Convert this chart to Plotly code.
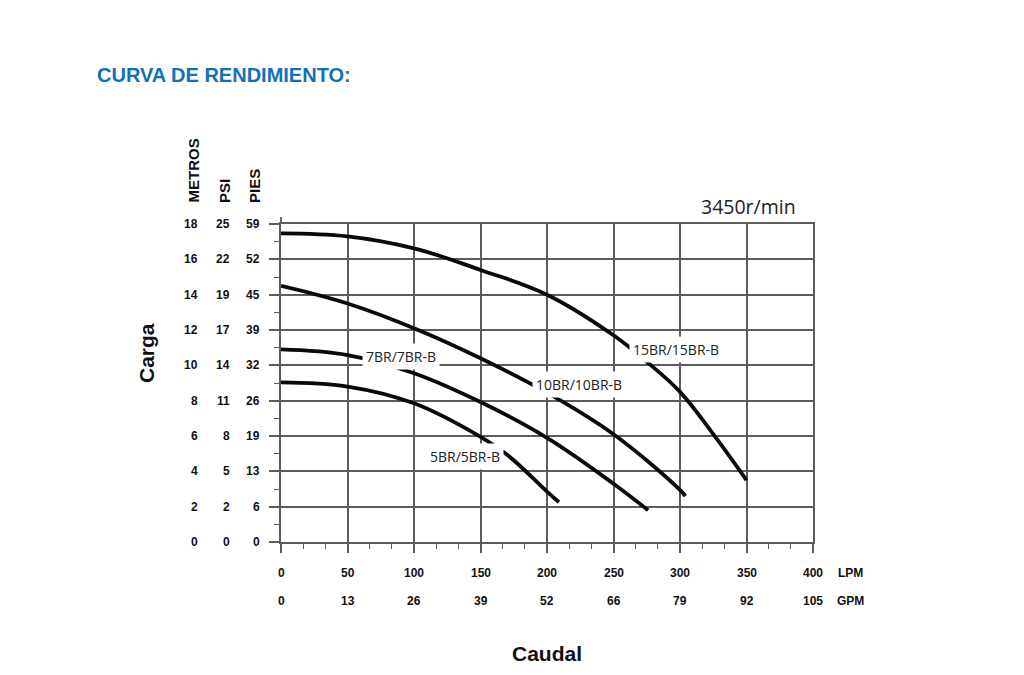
import plotly.graph_objects as go

# ---------------- data ----------------
lpm_ticks = [0, 50, 100, 150, 200, 250, 300, 350, 400]
lpm_labels = ["0", "50", "100", "150", "200", "250", "300", "350", "400"]
gpm_labels = ["0", "13", "26", "39", "52", "66", "79", "92", "105"]

metros_ticks = [0, 2, 4, 6, 8, 10, 12, 14, 16, 18]
metros_labels = ["0", "2", "4", "6", "8", "10", "12", "14", "16", "18"]
psi_labels = ["0", "2", "5", "8", "11", "14", "17", "19", "22", "25"]
pies_labels = ["0", "6", "13", "19", "26", "32", "39", "45", "52", "59"]

q_15br = [0, 50, 100, 150, 200, 250, 275, 300, 325, 350]
h_15br = [17.47, 17.3, 16.62, 15.4, 14.0, 11.7, 10.2, 8.5, 6.1, 3.5]

q_10br = [0, 50, 100, 150, 200, 250, 300, 304]
h_10br = [14.5, 13.5, 12.1, 10.4, 8.45, 6.1, 2.95, 2.6]

q_7br = [0, 50, 100, 150, 200, 250, 276]
h_7br = [10.9, 10.58, 9.55, 7.92, 5.9, 3.3, 1.8]

q_5br = [0, 50, 100, 150, 171, 200, 209]
h_5br = [9.03, 8.8, 7.85, 5.95, 4.88, 2.85, 2.25]

curve_names = ["15BR/15BR-B", "10BR/10BR-B", "7BR/7BR-B", "5BR/5BR-B"]
label_q = [297, 224, 90, 138]
label_h = [10.9, 8.93, 10.52, 4.85]

# ---------------- layout helpers ----------------
W, H = 1024, 675
OFF = 8  # page body margin
L, R, T, B = 273, 219, 216, 141
PW = W - L - R
PH = H - T - B


def px(x):
    return (x - OFF - L) / PW


def py(y):
    return (H - B - (y - OFF)) / PH


BOLD = "Liberation Sans, Arial, Helvetica, sans-serif"
OPEN = "Open Sans, Noto Sans, DejaVu Sans, sans-serif"
GRID = "#5c5c5c"
TXT = "#111111"

fig = go.Figure()

for q, h, name in [(q_15br, h_15br, curve_names[0]), (q_10br, h_10br, curve_names[1]),
                   (q_7br, h_7br, curve_names[2]), (q_5br, h_5br, curve_names[3])]:
    fig.add_trace(go.Scatter(
        x=q, y=h, mode="lines", name=name, showlegend=False,
        line=dict(color="#0a0a0a", width=3.8, shape="spline", smoothing=1.1),
        hoverinfo="skip",
    ))

annotations = []

# curve labels (white box hides curve and grid beneath)
for name, q, h in zip(curve_names, label_q, label_h):
    annotations.append(dict(
        x=q, y=h, xref="x", yref="y", text=name, showarrow=False,
        font=dict(family=OPEN, size=14, color="#222222"),
        bgcolor="white", borderpad=3,
    ))

TICKFONT = dict(family=BOLD, size=12, color=TXT)

# x tick label rows
for v, lab, g in zip(lpm_ticks, lpm_labels, gpm_labels):
    annotations.append(dict(x=v, y=py(573), xref="x", yref="paper",
                            text="<b>%s</b>" % lab, showarrow=False,
                            yanchor="middle", xanchor="center", font=TICKFONT))
    annotations.append(dict(x=v, y=py(601), xref="x", yref="paper",
                            text="<b>%s</b>" % g, showarrow=False,
                            yanchor="middle", xanchor="center", font=TICKFONT))
for txt, yy in [("LPM", 573), ("GPM", 601)]:
    annotations.append(dict(x=px(850), y=py(yy), xref="paper", yref="paper",
                            text="<b>%s</b>" % txt, showarrow=False,
                            yanchor="middle", xanchor="center", font=TICKFONT))

# y tick label columns
for v, m, p, f in zip(metros_ticks, metros_labels, psi_labels, pies_labels):
    for txt, right in [(m, 200), (p, 232), (f, 262)]:
        annotations.append(dict(x=px(right), y=v, xref="paper", yref="y",
                                text="<b>%s</b>" % txt, showarrow=False,
                                xanchor="right", yanchor="middle", font=TICKFONT))

# column headers (rotated)
for txt, cx in [("METROS", 193.5), ("PSI", 225), ("PIES", 255)]:
    annotations.append(dict(x=px(cx), y=py(205), xref="paper", yref="paper",
                            text="<b>%s</b>" % txt, showarrow=False, textangle=-90,
                            xanchor="center", yanchor="bottom",
                            font=dict(family=BOLD, size=15, color=TXT)))

# axis titles
annotations.append(dict(x=px(146), y=py(353), xref="paper", yref="paper",
                        text="<b>Carga</b>", showarrow=False, textangle=-90,
                        xanchor="center", yanchor="middle",
                        font=dict(family=BOLD, size=21, color=TXT)))
annotations.append(dict(x=px(547), y=py(653), xref="paper", yref="paper",
                        text="<b>Caudal</b>", showarrow=False,
                        xanchor="center", yanchor="middle",
                        font=dict(family=BOLD, size=21, color=TXT)))

# speed note
annotations.append(dict(x=px(748), y=py(206), xref="paper", yref="paper", text="3450r/min",
                        showarrow=False, xanchor="center", yanchor="middle",
                        font=dict(family=OPEN, size=19.5, color="#222222")))

# page title
annotations.append(dict(x=px(95), y=py(75), xref="paper", yref="paper",
                        text="<b>CURVA DE RENDIMIENTO:</b>",
                        showarrow=False, xanchor="left", yanchor="middle",
                        font=dict(family=BOLD, size=20, color="#1170b8")))

fig.update_layout(
    width=W, height=H,
    margin=dict(l=L, r=R, t=T, b=B, pad=0),
    paper_bgcolor="white", plot_bgcolor="white",
    annotations=annotations,
    xaxis=dict(
        range=[0, 400], tickvals=lpm_ticks, showticklabels=False,
        showgrid=True, gridcolor=GRID, gridwidth=1.6,
        showline=True, linecolor=GRID, linewidth=1.8, mirror=True,
        ticks="outside", ticklen=9, tickwidth=1.6, tickcolor=GRID,
        minor=dict(dtick=50 / 3, tick0=0, ticks="outside", ticklen=5,
                   tickwidth=1.4, tickcolor=GRID, showgrid=False),
        zeroline=False, fixedrange=True,
    ),
    yaxis=dict(
        range=[0, 18], tickvals=metros_ticks, showticklabels=False,
        showgrid=True, gridcolor=GRID, gridwidth=1.6,
        showline=True, linecolor=GRID, linewidth=1.8, mirror=True,
        ticks="outside", ticklen=10, tickwidth=1.6, tickcolor=GRID,
        minor=dict(dtick=1, tick0=0, ticks="outside", ticklen=5,
                   tickwidth=1.4, tickcolor=GRID, showgrid=False),
        zeroline=False, fixedrange=True,
    ),
    shapes=[dict(type="line", xref="paper", yref="paper", x0=0, x1=0,
                 ysizemode="pixel", yanchor=1, y0=0, y1=7,
                 line=dict(color=GRID, width=1.8))],
)

fig.write_html("out.html")
